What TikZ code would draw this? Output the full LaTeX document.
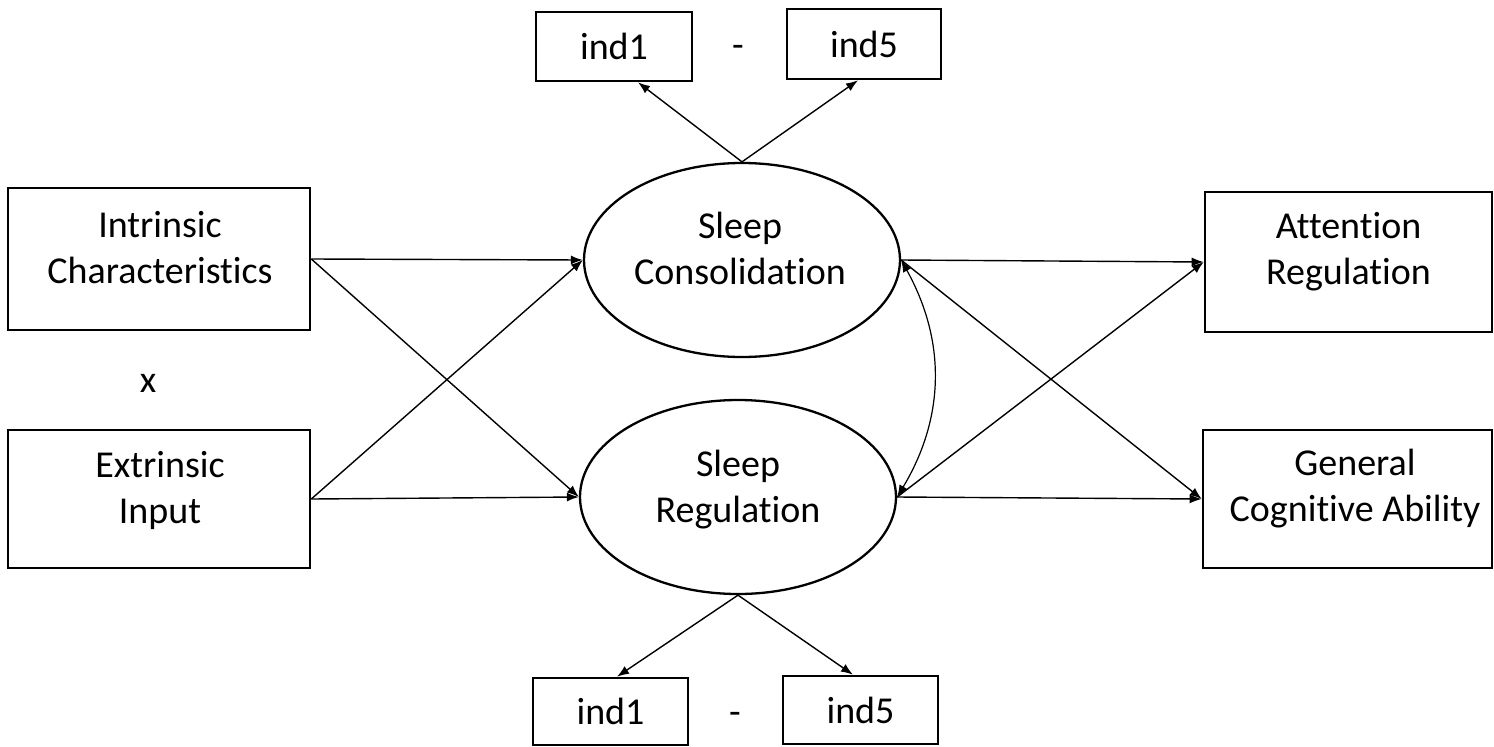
\documentclass[tikz,border=0pt]{standalone}
\usepackage{fontspec}
\setmainfont{Carlito}[Ligatures=NoCommon]
\usetikzlibrary{shapes.geometric,arrows.meta,calc}
\begin{document}
\begin{tikzpicture}[x=1pt,y=-1pt,
  box/.style={draw,line width=2.6pt,minimum width=#1,inner sep=0pt},
  lat/.style={draw,ellipse,line width=2.3pt,minimum width=316pt,minimum height=194pt,inner sep=0pt},
  lbl/.style={font=\fontsize{38}{46}\selectfont,align=center,inner sep=0pt},
  con/.style={line width=1.4pt,-{Latex[length=12pt,width=9pt]}},
  dcon/.style={line width=1.2pt,{Latex[length=12pt,width=9pt]}-{Latex[length=12pt,width=9pt]}}]
\useasboundingbox (0,0) rectangle (1494,747);
% indicator boxes top
\node[box=156pt,minimum height=69pt,lbl] (it1) at (614,46.5) {ind1};
\node[box=154pt,minimum height=70pt,lbl] (it5) at (864,44) {ind5};
\node[lbl] (dt) at (738,51) {-};
% left boxes
\node[box=302pt,minimum height=142pt] (ic) at (159,259) {};
\node[lbl] (ict) at (160,248) {Intrinsic\\Characteristics};
\node[lbl] (xx) at (148,383) {x};
\node[box=302pt,minimum height=138pt] (ei) at (159,499) {};
\node[lbl] (eit) at (160,490) {Extrinsic\\Input};
% latent
\node[lat] (cons) at (742,260) {};
\node[lbl] (const) at (740,248) {Sleep\\Consolidation};
\node[lat] (reg) at (738,497) {};
\node[lbl] (regt) at (738,490) {Sleep\\Regulation};
% right boxes
\node[box=287pt,minimum height=140pt] (att) at (1348.5,262) {};
\node[lbl] (attt) at (1348.5,252) {Attention\\Regulation};
\node[box=289pt,minimum height=138pt] (gen) at (1347.5,499) {};
\node[lbl] (gent) at (1355,489) {General\\Cognitive Ability};
% indicator boxes bottom
\node[box=155pt,minimum height=67pt,lbl] (ib1) at (610.5,711.5) {ind1};
\node[box=155pt,minimum height=68pt,lbl] (ib5) at (860.5,710) {ind5};
\node[lbl] (db) at (735,718) {-};
% connectors
\draw[con] (cons.north) -- ([xshift=24pt]it1.south);
\draw[con] (cons.north) -- ([xshift=-6pt]it5.south);
\draw[con] (reg.south) -- ([xshift=6.5pt]ib1.north);
\draw[con] (reg.south) -- ([xshift=-7.5pt]ib5.north);
\draw[con] (ic.east) -- (cons.west);
\draw[con] (ic.east) -- (reg.west);
\draw[con] (ei.east) -- (cons.west);
\draw[con] (ei.east) -- (reg.west);
\draw[con] (cons.east) -- (att.west);
\draw[con] (cons.east) -- (gen.west);
\draw[con] (reg.east) -- (gen.west);
\draw[con] (reg.east) -- (att.west);
\draw[dcon] (cons.east) to[bend left=30] (reg.east);
\end{tikzpicture}
\end{document}
